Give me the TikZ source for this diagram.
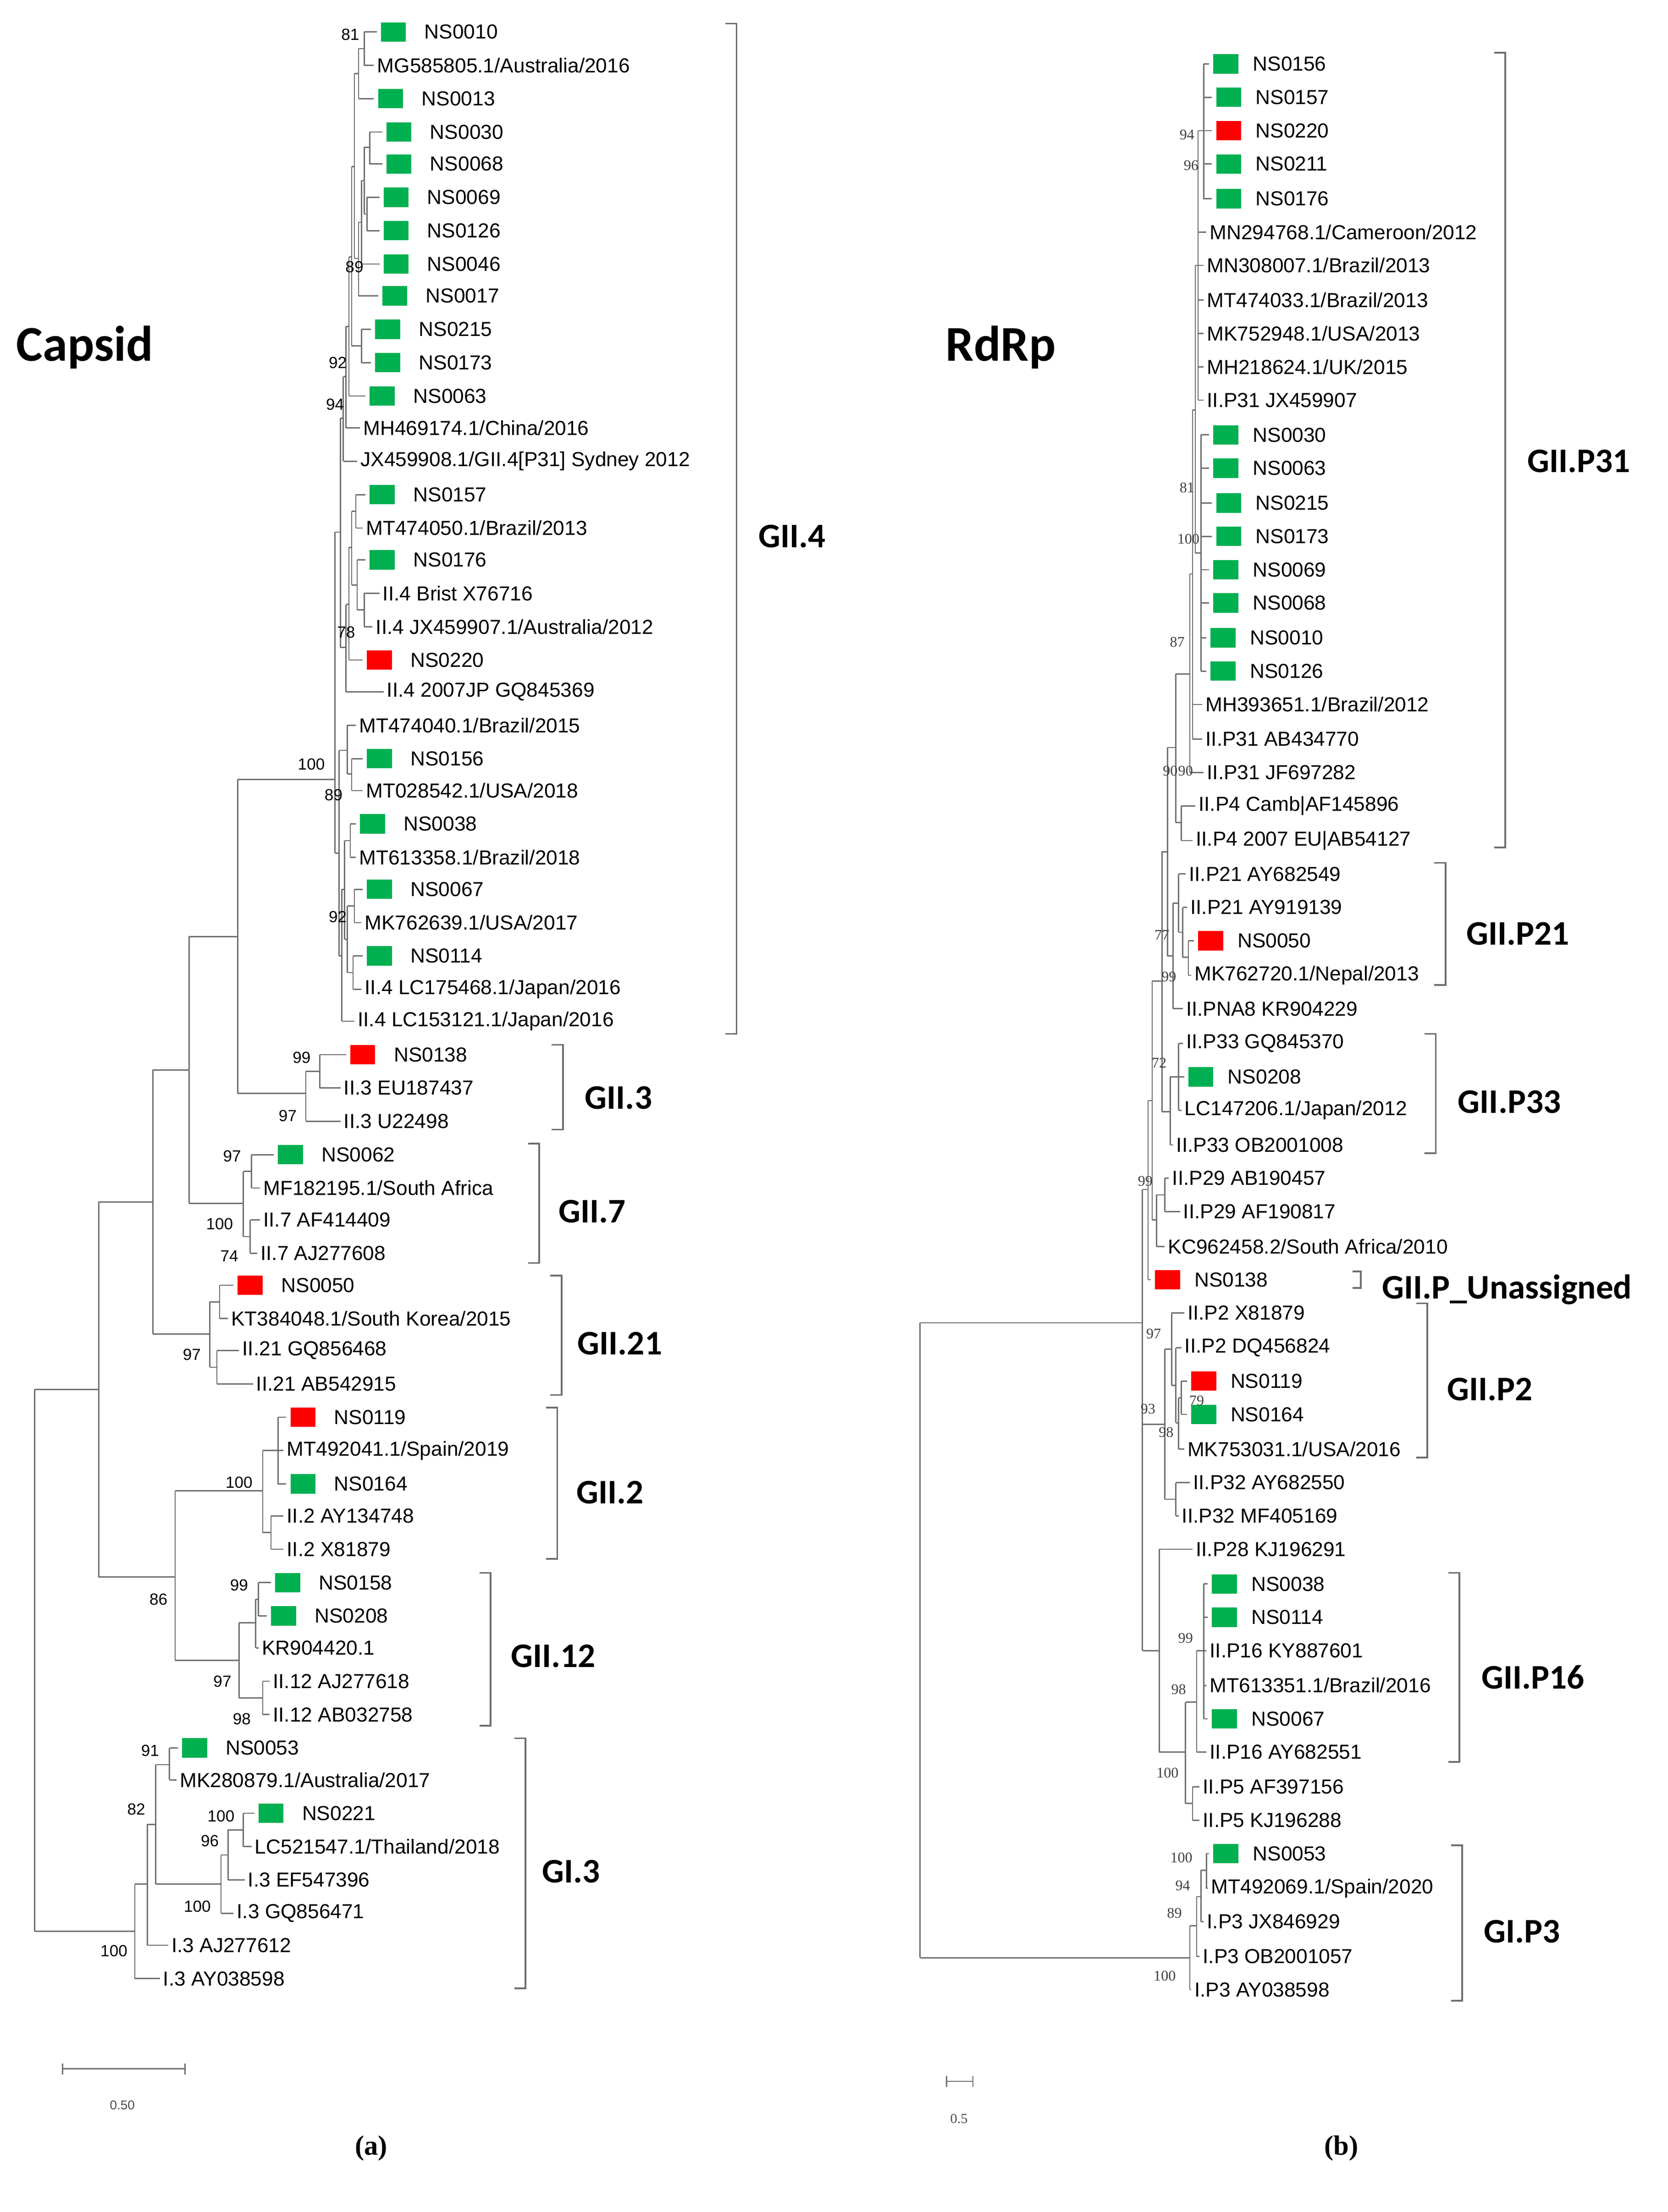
\documentclass[tikz,border=0pt]{standalone}
\usepackage{fontspec}
\setmainfont{Liberation Sans}
\newfontfamily\cali{Carlito}
\newfontfamily\tms{Liberation Serif}
\definecolor{gbx}{HTML}{00B050}
\definecolor{rbx}{HTML}{FF0000}
\definecolor{lnc}{HTML}{6E6E6E}
\newcommand\Vt[3]{\draw[br] (#1,#2) -- (#1,#3);}
\newcommand\Hz[3]{\draw[br] (#1,#3) -- (#2,#3);}
\newcommand\LfT[4]{\draw[br] (#1,#2) -- (#3-2,#2); \node[lt] at (#3,#2) {#4};}
\newcommand\boff{22}
\newcommand\LfB[5]{\draw[br] (#1,#2) -- (#3-12,#2); \node[bx,fill=#4] at (#3,#2) {}; \node[lt] at (#3+\boff,#2) {#5};}
\newcommand\Bs[3]{\node[bs] at (#1,#2) {#3};}
\newcommand\Brk[5]{\draw[bk] (#1-8,#2) -- (#1,#2) -- (#1,#3) -- (#1-8,#3); \node[cl] at (#4,{(#2+#3)/2+#5}) {#4x};}
\begin{document}
\begin{tikzpicture}[x=0.5pt,y=-0.5pt,
  br/.style={draw=lnc,line width=0.45pt},
  bk/.style={draw=lnc,line width=0.6pt},
  lt/.style={anchor=west,inner sep=0pt,font=\fontsize{7.3}{8}\selectfont},
  bx/.style={draw=none,minimum width=9pt,minimum height=7pt,inner sep=0pt},
  bs/.style={inner sep=0pt,font=\fontsize{5.8}{6}\selectfont},
  bsr/.style={inner sep=0pt,font=\tms\fontsize{5.3}{6}\selectfont,text=black!75},
  clab/.style={inner sep=0pt,font=\cali\bfseries\fontsize{12.4}{13}\selectfont}]
\useasboundingbox (0,0) rectangle (1200,1592);
\fill[white] (0,0) rectangle (1200,1592);
% ---------------- LEFT TREE ----------------
\Vt{262}{23}{47}\LfB{262}{23}{283}{gbx}{NS0010}\LfT{262}{47}{271}{MG585805.1/Australia/2016}
\Vt{258}{35}{71}\Hz{258}{262}{35}\LfB{258}{71}{281}{gbx}{NS0013}
\Vt{266}{95}{118}\LfB{266}{95}{287}{gbx}{NS0030}\LfB{266}{118}{287}{gbx}{NS0068}
\Vt{264}{142}{166}\LfB{264}{142}{285}{gbx}{NS0069}\LfB{264}{166}{285}{gbx}{NS0126}
\Vt{262}{106}{154}\Hz{262}{266}{106}\Hz{262}{264}{154}
\Vt{260}{130}{190}\Hz{260}{262}{130}\LfB{260}{190}{285}{gbx}{NS0046}
\Vt{258}{160}{213}\Hz{258}{260}{160}\LfB{258}{213}{284}{gbx}{NS0017}
\Vt{255}{53}{186}\Hz{255}{258}{53}\Hz{255}{258}{186}
\Vt{260}{237}{261}\LfB{260}{237}{279}{gbx}{NS0215}\LfB{260}{261}{279}{gbx}{NS0173}
\Vt{253}{120}{249}\Hz{253}{255}{120}\Hz{253}{260}{249}
\Vt{251}{185}{285}\Hz{251}{253}{185}\LfB{251}{285}{275}{gbx}{NS0063}
\Vt{249}{235}{308}\Hz{249}{251}{235}\LfT{249}{308}{261}{MH469174.1/China/2016}
\Vt{247}{271}{332}\Hz{247}{249}{271}\LfT{247}{332}{259}{JX459908.1/GII.4[P31] Sydney 2012}
\Vt{256}{356}{380}\LfB{256}{356}{275}{gbx}{NS0157}\LfT{256}{380}{263}{MT474050.1/Brazil/2013}
\Vt{262}{427}{451}\LfT{262}{427}{275}{II.4 Brist X76716}\LfT{262}{451}{270}{II.4 JX459907.1/Australia/2012}
\Vt{257}{403}{439}\LfB{257}{403}{275}{gbx}{NS0176}\Hz{257}{262}{439}
\Vt{253}{368}{421}\Hz{253}{256}{368}\Hz{253}{257}{421}
\Vt{251}{394}{475}\Hz{251}{253}{394}\LfB{251}{475}{273}{rbx}{NS0220}
\Vt{249}{435}{498}\Hz{249}{251}{435}\LfT{249}{498}{278}{II.4 2007JP GQ845369}
\Vt{245}{301}{466}\Hz{245}{247}{301}\Hz{245}{249}{466}
\Vt{253}{546}{569}\LfB{253}{546}{273}{gbx}{NS0156}\LfT{253}{569}{263}{MT028542.1/USA/2018}
\Vt{250}{522}{557}\LfT{250}{522}{258}{MT474040.1/Brazil/2015}\Hz{250}{253}{557}
\Vt{252}{593}{617}\LfB{252}{593}{268}{gbx}{NS0038}\LfT{252}{617}{258}{MT613358.1/Brazil/2018}
\Vt{255}{640}{664}\LfB{255}{640}{273}{gbx}{NS0067}\LfT{255}{664}{262}{MK762639.1/USA/2017}
\Vt{254}{688}{712}\LfB{254}{688}{273}{gbx}{NS0114}\LfT{254}{712}{262}{II.4 LC175468.1/Japan/2016}
\Vt{250}{652}{700}\Hz{250}{255}{652}\Hz{250}{254}{700}
\Vt{248}{605}{676}\Hz{248}{252}{605}\Hz{248}{250}{676}
\Vt{246}{640}{735}\Hz{246}{248}{640}\LfT{246}{735}{257}{II.4 LC153121.1/Japan/2016}
\Vt{244}{540}{688}\Hz{244}{250}{540}\Hz{244}{246}{688}
\Vt{241}{383}{614}\Hz{241}{245}{383}\Hz{241}{244}{614}
\Vt{171}{561}{787}\Hz{171}{241}{561}
\Vt{230}{759}{783}\LfB{230}{759}{261}{rbx}{NS0138}\LfT{230}{783}{247}{II.3 EU187437}
\Vt{220}{771}{807}\Hz{220}{230}{771}\LfT{220}{807}{247}{II.3 U22498}\Hz{171}{220}{787}
\Vt{136}{674}{866}\Hz{136}{171}{674}
\Vt{181}{831}{855}\LfB{181}{831}{209}{gbx}{NS0062}\LfT{181}{855}{189}{MF182195.1/South Africa}
\Vt{180}{878}{902}\LfT{180}{878}{189}{II.7 AF414409}\LfT{180}{902}{187}{II.7 AJ277608}
\Vt{175}{843}{890}\Hz{175}{181}{843}\Hz{175}{180}{890}\Hz{136}{175}{866}
\Vt{110}{770}{960}\Hz{110}{136}{770}
\Vt{158}{925}{949}\LfB{158}{925}{180}{rbx}{NS0050}\LfT{158}{949}{166}{KT384048.1/South Korea/2015}
\Vt{156}{972}{996}\LfT{156}{972}{174}{II.21 GQ856468}\LfT{156}{996}{184}{II.21 AB542915}
\Vt{151}{937}{984}\Hz{151}{158}{937}\Hz{151}{156}{984}\Hz{110}{151}{960}
\Vt{71}{865}{1135}\Hz{71}{110}{865}
\Vt{200}{1020}{1068}\LfB{200}{1020}{218}{rbx}{NS0119}\LfT{200}{1044}{206}{MT492041.1/Spain/2019}\LfB{200}{1068}{218}{gbx}{NS0164}
\Vt{195}{1091}{1115}\LfT{195}{1091}{206}{II.2 AY134748}\LfT{195}{1115}{206}{II.2 X81879}
\Vt{189}{1044}{1103}\Hz{189}{200}{1044}\Hz{189}{195}{1103}
\Vt{186}{1139}{1163}\LfB{186}{1139}{207}{gbx}{NS0158}\LfB{186}{1163}{204}{gbx}{NS0208}
\Vt{184}{1151}{1186}\Hz{184}{186}{1151}\LfT{184}{1186}{188}{KR904420.1}
\Vt{189}{1210}{1234}\LfT{189}{1210}{196}{II.12 AJ277618}\LfT{189}{1234}{196}{II.12 AB032758}
\Vt{172}{1168}{1222}\Hz{172}{184}{1168}\Hz{172}{189}{1222}
\Vt{126}{1073}{1195}\Hz{126}{189}{1073}\Hz{126}{172}{1195}\Hz{71}{126}{1135}
\Vt{122}{1258}{1281}\LfB{122}{1258}{140}{gbx}{NS0053}\LfT{122}{1281}{129}{MK280879.1/Australia/2017}
\Vt{175}{1305}{1329}\LfB{175}{1305}{195}{gbx}{NS0221}\LfT{175}{1329}{183}{LC521547.1/Thailand/2018}
\Vt{164}{1317}{1353}\Hz{164}{175}{1317}\LfT{164}{1353}{178}{I.3 EF547396}
\Vt{159}{1335}{1377}\Hz{159}{164}{1335}\LfT{159}{1377}{170}{I.3 GQ856471}
\Vt{112}{1270}{1356}\Hz{112}{122}{1270}\Hz{112}{159}{1356}
\Vt{106}{1313}{1400}\Hz{106}{112}{1313}\LfT{106}{1400}{123}{I.3 AJ277612}
\Vt{97}{1356}{1424}\Hz{97}{106}{1356}\LfT{97}{1424}{117}{I.3 AY038598}
\Vt{25}{1000}{1390}\Hz{25}{71}{1000}\Hz{25}{97}{1390}
% bootstrap left
\Bs{252}{25}{81}\Bs{255}{192}{89}\Bs{243}{261}{92}\Bs{241}{291}{94}\Bs{249}{455}{78}
\Bs{224}{550}{100}\Bs{240}{572}{89}\Bs{243}{660}{92}\Bs{217}{761}{99}\Bs{207}{803}{97}
\Bs{167}{832}{97}\Bs{158}{881}{100}\Bs{165}{904}{74}\Bs{138}{975}{97}\Bs{172}{1067}{100}
\Bs{114}{1151}{86}\Bs{172}{1141}{99}\Bs{160}{1210}{97}\Bs{174}{1237}{98}\Bs{108}{1260}{91}
\Bs{98}{1302}{82}\Bs{159}{1307}{100}\Bs{151}{1325}{96}\Bs{142}{1372}{100}\Bs{82}{1404}{100}
% brackets left
\draw[bk] (522,17) -- (530,17) -- (530,744) -- (522,744); \node[clab] (cGII4) at (570,386) {GII.4};
\draw[bk] (397,752) -- (405,752) -- (405,813) -- (397,813); \node[clab] (cGII3) at (445,790) {GII.3};
\draw[bk] (380,823) -- (388,823) -- (388,909) -- (380,909); \node[clab] (cGII7) at (426,872) {GII.7};
\draw[bk] (396,918) -- (404,918) -- (404,1004) -- (396,1004); \node[clab] (cGII21) at (446,967) {GII.21};
\draw[bk] (393,1013) -- (401,1013) -- (401,1122) -- (393,1122); \node[clab] (cGII2) at (439,1074) {GII.2};
\draw[bk] (345,1132) -- (353,1132) -- (353,1242) -- (345,1242); \node[clab] (cGII12) at (398,1192) {GII.12};
\draw[bk] (370,1251) -- (378,1251) -- (378,1431) -- (370,1431); \node[clab] (cGI3) at (411,1347) {GI.3};
\node[font=\cali\bfseries\fontsize{18}{20}\selectfont] (tcap) at (61,250) {Capsid};
\draw[br] (45,1485) -- (45,1493) (45,1489) -- (133,1489) (133,1485) -- (133,1493);
\node[font=\fontsize{4.6}{5}\selectfont,text=black!70] (sc1) at (88,1515) {0.50};
\node[font=\tms\bfseries\fontsize{10}{11}\selectfont] (pa) at (267,1546) {(a)};
% ---------------- RIGHT TREE ----------------
\renewcommand\boff{19}
\Vt{866}{46}{143}\LfB{866}{46}{882}{gbx}{NS0156}\LfB{866}{70}{884}{gbx}{NS0157}\LfB{866}{94}{884}{rbx}{NS0220}\LfB{866}{118}{884}{gbx}{NS0211}\LfB{866}{143}{884}{gbx}{NS0176}
\Vt{862}{94}{288}\Hz{862}{866}{94}
\LfT{862}{167}{870}{MN294768.1/Cameroon/2012}\LfT{862}{191}{868}{MN308007.1/Brazil/2013}\LfT{862}{216}{868}{MT474033.1/Brazil/2013}
\LfT{862}{240}{868}{MK752948.1/USA/2013}\LfT{862}{264}{868}{MH218624.1/UK/2015}\LfT{862}{288}{868}{II.P31 JX459907}
\Vt{864}{313}{483}\LfB{864}{313}{882}{gbx}{NS0030}\LfB{864}{337}{882}{gbx}{NS0063}\LfB{864}{362}{884}{gbx}{NS0215}\LfB{864}{386}{884}{gbx}{NS0173}
\LfB{864}{410}{882}{gbx}{NS0069}\LfB{864}{434}{882}{gbx}{NS0068}\LfB{864}{459}{880}{gbx}{NS0010}\LfB{864}{483}{880}{gbx}{NS0126}
\Vt{860}{191}{398}\Hz{860}{862}{191}\Hz{860}{864}{398}
\Vt{858}{295}{532}\Hz{858}{860}{295}\LfT{858}{507}{867}{MH393651.1/Brazil/2012}\LfT{858}{532}{867}{II.P31 AB434770}
\Vt{856}{413}{556}\Hz{856}{858}{413}\LfT{856}{556}{868}{II.P31 JF697282}
\Vt{850}{580}{605}\LfT{850}{580}{862}{II.P4 Camb|AF145896}\LfT{850}{605}{860}{II.P4 2007 EU|AB54127}
\Vt{846}{485}{592}\Hz{846}{856}{485}\Hz{846}{850}{592}
\Vt{855}{677}{702}\LfB{855}{677}{871}{rbx}{NS0050}\LfT{855}{702}{859}{MK762720.1/Nepal/2013}
\Vt{851}{653}{689}\LfT{851}{653}{856}{II.P21 AY919139}\Hz{851}{855}{689}
\Vt{848}{629}{671}\LfT{848}{629}{855}{II.P21 AY682549}\Hz{848}{851}{671}
\Vt{844}{650}{726}\Hz{844}{848}{650}\LfT{844}{726}{853}{II.PNA8 KR904229}
\Vt{848}{751}{799}\LfT{848}{751}{853}{II.P33 GQ845370}\LfB{848}{775}{864}{gbx}{NS0208}\LfT{848}{799}{852}{LC147206.1/Japan/2012}
\Vt{842}{775}{824}\Hz{842}{848}{775}\LfT{842}{824}{846}{II.P33 OB2001008}
\Vt{838}{848}{872}\LfT{838}{848}{843}{II.P29 AB190457}\LfT{838}{872}{851}{II.P29 AF190817}
\Vt{832}{860}{897}\Hz{832}{838}{860}\LfT{832}{897}{840}{KC962458.2/South Africa/2010}
\Vt{840}{538}{688}\Hz{840}{846}{538}\Hz{840}{844}{688}
\Vt{836}{613}{800}\Hz{836}{840}{613}\Hz{836}{842}{800}
\Vt{829}{706}{878}\Hz{829}{836}{706}\Hz{829}{832}{878}
\Vt{826}{792}{921}\Hz{826}{829}{792}\LfB{826}{921}{840}{rbx}{NS0138}
\Vt{850}{994}{1018}\LfB{850}{994}{866}{rbx}{NS0119}\LfB{850}{1018}{866}{gbx}{NS0164}
\Vt{848}{1006}{1043}\Hz{848}{850}{1006}\LfT{848}{1043}{854}{MK753031.1/USA/2016}
\Vt{846}{970}{1024}\LfT{846}{970}{852}{II.P2 DQ456824}\Hz{846}{848}{1024}
\Vt{843}{945}{997}\LfT{843}{945}{854}{II.P2 X81879}\Hz{843}{846}{997}
\Vt{846}{1067}{1091}\LfT{846}{1067}{858}{II.P32 AY682550}\LfT{846}{1091}{850}{II.P32 MF405169}
\Vt{838}{971}{1079}\Hz{838}{843}{971}\Hz{838}{846}{1079}
\Vt{866}{1140}{1237}\LfB{866}{1140}{881}{gbx}{NS0038}\LfB{866}{1164}{881}{gbx}{NS0114}\LfT{866}{1188}{870}{II.P16 KY887601}
\LfT{866}{1213}{870}{MT613351.1/Brazil/2016}\LfB{866}{1237}{881}{gbx}{NS0067}
\Vt{861}{1188}{1261}\Hz{861}{866}{1188}\LfT{861}{1261}{870}{II.P16 AY682551}
\Vt{858}{1286}{1310}\LfT{858}{1286}{865}{II.P5 AF397156}\LfT{858}{1310}{865}{II.P5 KJ196288}
\Vt{853}{1225}{1298}\Hz{853}{861}{1225}\Hz{853}{858}{1298}
\Vt{834}{1115}{1261}\LfT{834}{1115}{860}{II.P28 KJ196291}\Hz{834}{853}{1261}
\Vt{822}{856}{1188}\Hz{822}{826}{856}\Hz{822}{838}{1025}\Hz{822}{834}{1188}
\Vt{868}{1334}{1359}\LfB{868}{1334}{882}{gbx}{NS0053}\LfT{868}{1359}{871}{MT492069.1/Spain/2020}
\Vt{864}{1346}{1383}\Hz{864}{868}{1346}\LfT{864}{1383}{868}{I.P3 JX846929}
\Vt{861}{1365}{1408}\Hz{861}{864}{1365}\LfT{861}{1408}{865}{I.P3 OB2001057}
\Vt{856}{1386}{1432}\Hz{856}{861}{1386}\LfT{856}{1432}{859}{I.P3 AY038598}
\Vt{662}{952}{1409}\Hz{662}{822}{952}\Hz{662}{856}{1409}
% bootstrap right
\foreach \bx/\by/\bt in {854/97/94,857/119/96,854/351/81,855/388/100,847/462/87,842/555/90,853/555/90,836/673/77,841/703/99,834/765/72,824/850/99,830/960/97,861/1008/79,826/1014/93,839/1031/98,853/1179/99,848/1216/98,840/1276/100,850/1337/100,851/1357/94,845/1377/89,838/1422/100}
  \node[bsr] at (\bx,\by) {\bt};
% brackets right
\draw[bk] (1075,38) -- (1083,38) -- (1083,610) -- (1075,610); \node[clab] (cP31) at (1136,332) {GII.P31};
\draw[bk] (1032,621) -- (1040,621) -- (1040,709) -- (1032,709); \node[clab] (cP21) at (1092,672) {GII.P21};
\draw[bk] (1025,744) -- (1033,744) -- (1033,830) -- (1025,830); \node[clab] (cP33) at (1086,793) {GII.P33};
\draw[bk] (973,915) -- (979,915) -- (979,927) -- (973,927); \node[clab,anchor=west] (cPU) at (994,928) {GII.P\_Unassigned};
\draw[bk] (1019,938) -- (1027,938) -- (1027,1049) -- (1019,1049); \node[clab] (cP2) at (1072,1000) {GII.P2};
\draw[bk] (1042,1132) -- (1050,1132) -- (1050,1268) -- (1042,1268); \node[clab] (cP16) at (1103,1207) {GII.P16};
\draw[bk] (1044,1328) -- (1052,1328) -- (1052,1440) -- (1044,1440); \node[clab] (cGP3) at (1095,1390) {GI.P3};
\node[font=\cali\bfseries\fontsize{18}{20}\selectfont] (trd) at (720,250) {RdRp};
\draw[br] (681,1494) -- (681,1502) (681,1498) -- (700,1498) (700,1494) -- (700,1502);
\node[font=\tms\fontsize{5}{6}\selectfont,text=black!70] (sc2) at (690,1525) {0.5};
\node[font=\tms\bfseries\fontsize{10}{11}\selectfont] (pb) at (965,1546) {(b)};
\end{tikzpicture}
\end{document}
